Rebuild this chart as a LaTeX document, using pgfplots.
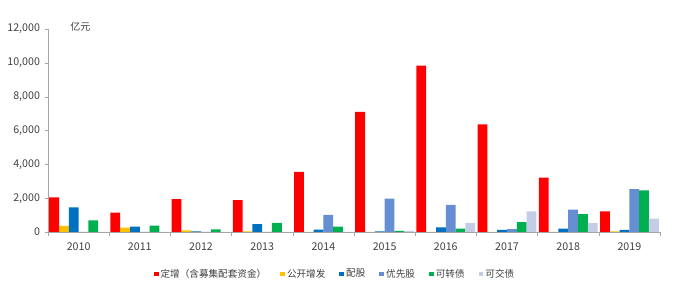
\documentclass[border=0pt]{standalone}
\usepackage{pgfplots}
\pgfplotsset{compat=1.18}
\usepackage{fontspec}
\setmainfont{Noto Sans CJK SC}
\definecolor{cRed}{HTML}{FF0000}
\definecolor{cYel}{HTML}{FFC000}
\definecolor{cDBlue}{HTML}{0070C0}
\definecolor{cLBlue}{HTML}{658FD2}
\definecolor{cGreen}{HTML}{00B050}
\definecolor{cGrey}{HTML}{C3CDE6}
\definecolor{axgrey}{HTML}{A6A6A6}
\definecolor{txt}{HTML}{404040}
\begin{document}
\begin{tikzpicture}
\begin{axis}[
  scale only axis, width=459pt, height=152.25pt,
  clip=false,
  ybar=0pt, bar width=0.16,
  xmin=-0.5, xmax=9.5, ymin=0, ymax=12000,
  xtick={0,...,9},
  xticklabels={\mbox{2010},\mbox{2011},\mbox{2012},\mbox{2013},\mbox{2014},\mbox{2015},\mbox{2016},\mbox{2017},\mbox{2018},\mbox{2019}},
  minor xtick={-0.5,0.5,...,9.5},
  ytick={0,2000,...,12000},
  scaled y ticks=false,
  yticklabel={\pgfmathprintnumber[fixed,precision=0,1000 sep={,},assume math mode=true]{\tick}},
  major x tick style={draw=none},
  minor x tick style={axgrey},
  minor tick length=3pt,
  major tick length=2.5pt,
  tick align=outside,
  y tick style={axgrey},
  axis x line*=bottom, axis y line*=left,
  axis line style={axgrey,-},
  ticklabel style={font=\fontsize{8}{9}\selectfont, text=txt},
  xticklabel style={yshift=-2pt},
  legend style={draw=none, at={(axis description cs:0.469,-0.207)}, anchor=center,
    font=\fontsize{7.2}{9}\selectfont, text=txt, inner sep=0pt,
    nodes={inner xsep=1.5pt, inner ysep=0pt},
    /tikz/every even column/.append style={column sep=9pt}},
  legend columns=6,
  legend image code/.code={\fill[#1] (0pt,-1.8pt) rectangle (3.6pt,1.8pt);},
]
\addplot[fill=cRed, draw=none] coordinates {(0,2040) (1,1150) (2,1940) (3,1880) (4,3560) (5,7100) (6,9840) (7,6360) (8,3220) (9,1220)};
\addplot[fill=cYel, draw=none] coordinates {(0,360) (1,260) (2,100) (3,40) (4,10) (5,10) (6,10) (7,10) (8,10) (9,40)};
\addplot[fill=cDBlue, draw=none] coordinates {(0,1450) (1,320) (2,30) (3,460) (4,140) (5,30) (6,280) (7,130) (8,200) (9,130)};
\addplot[fill=cLBlue, draw=none] coordinates {(0,0) (1,0) (2,0) (3,0) (4,1010) (5,1970) (6,1600) (7,170) (8,1320) (9,2540)};
\addplot[fill=cGreen, draw=none] coordinates {(0,690) (1,380) (2,160) (3,540) (4,320) (5,60) (6,200) (7,580) (8,1050) (9,2460)};
\addplot[fill=cGrey, draw=none] coordinates {(0,0) (1,0) (2,0) (3,0) (4,0) (5,60) (6,540) (7,1220) (8,520) (9,790)};
\legend{定增（含募集配套资金）,公开增发,配股,优先股,可转债,可交债}
\node[anchor=west, font=\fontsize{7.5}{9}\selectfont, text=txt, inner sep=0pt] at (rel axis cs:0.036,1.01) {亿元};
\end{axis}
\path[use as bounding box] ([xshift=-36pt,yshift=-51pt]current axis.south west) rectangle ([xshift=30pt,yshift=21.75pt]current axis.north east);
\end{tikzpicture}
\end{document}
